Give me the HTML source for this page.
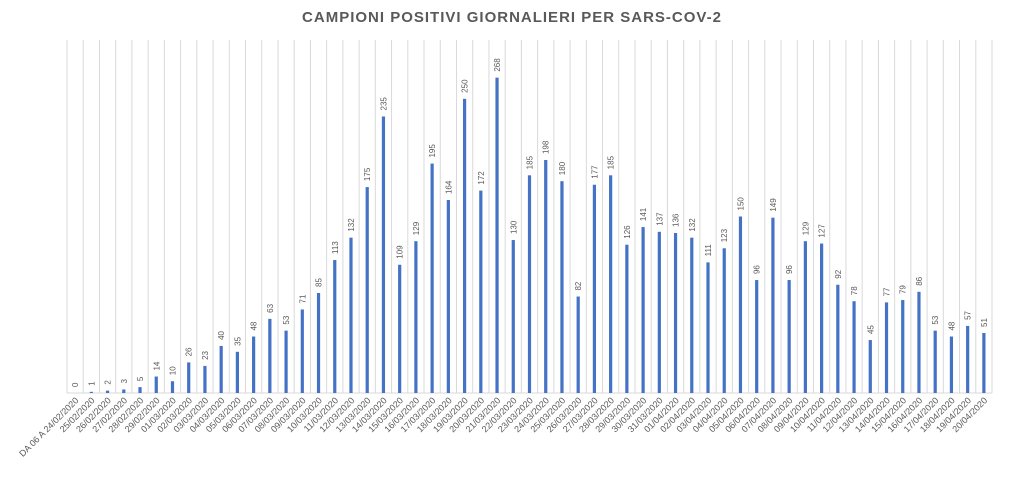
<!DOCTYPE html>
<html><head><meta charset="utf-8"><style>
body{margin:0;background:#fff;}
svg{display:block;font-family:"Liberation Sans",sans-serif;}
</style></head><body>
<svg id="chart" width="1024" height="481" viewBox="0 0 1024 481">
<rect width="1024" height="481" fill="#fff"/>
<text x="512" y="22" text-anchor="middle" font-size="15" font-weight="bold" fill="#595959" letter-spacing="1">CAMPIONI POSITIVI GIORNALIERI PER SARS-COV-2</text>
<g id="grid"></g><g id="bars"></g><g id="vals"></g><g id="cats"></g>
</svg>
<script>
const categories=["DA 06 A 24/02/2020","25/02/2020","26/02/2020","27/02/2020","28/02/2020","29/02/2020"];
for(let d=1;d<=31;d++)categories.push(String(d).padStart(2,"0")+"/03/2020");
for(let d=1;d<=20;d++)categories.push(String(d).padStart(2,"0")+"/04/2020");
const values=[0,1,2,3,5,14,10,26,23,40,35,48,63,53,71,85,113,132,175,235,109,129,195,164,250,172,268,130,185,198,180,82,177,185,126,141,137,136,132,111,123,150,96,149,96,129,127,92,78,45,77,79,86,53,48,57,51];
const yMax=300;
const L=67,R=992,T=40,B=393;
const NS="http://www.w3.org/2000/svg";
const n=categories.length, bw=(R-L)/n;
const x=i=>L+bw*(i+0.5);
const y=v=>B-(B-T)*v/yMax;
function mk(tag,attrs,parent){const e=document.createElementNS(NS,tag);for(const k in attrs)e.setAttribute(k,attrs[k]);document.getElementById(parent).appendChild(e);return e;}
for(let i=0;i<=n;i++){
  const g=mk("line",{x1:L+bw*i,x2:L+bw*i,y1:T,y2:B,stroke:"#d9d9d9","stroke-width":1},"grid");
  
  
}
const ax=mk("line",{x1:L,x2:R,y1:B,y2:B,stroke:"#d9d9d9","stroke-width":1},"grid");


values.forEach((v,i)=>{
  const b=mk("rect",{x:x(i)-1.6,y:y(v),width:3.2,height:B-y(v),fill:"#4472c4"},"bars");
  
  
  const t=mk("text",{transform:`translate(${x(i)+3},${y(v)-6}) rotate(-90)`,"font-size":8,fill:"#595959"},"vals");
  t.textContent=v;
  
  
});
categories.forEach((c,i)=>{
  const t=mk("text",{transform:`translate(${x(i)+4},${B+8}) rotate(-45)`,"font-size":9,fill:"#595959","text-anchor":"end"},"cats");
  t.textContent=c;
  
  
});
</script>
</body></html>
